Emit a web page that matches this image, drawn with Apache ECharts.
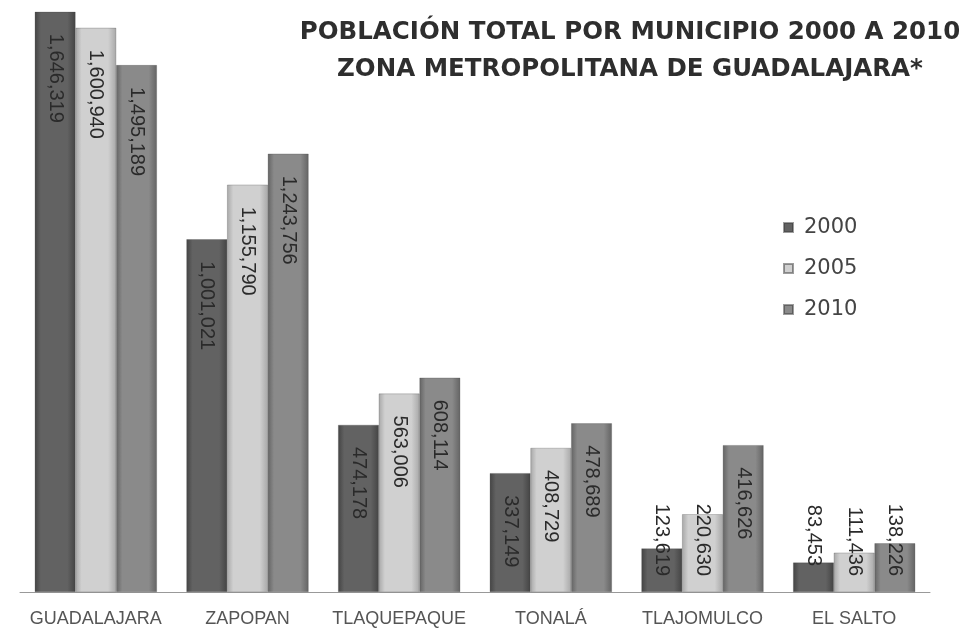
<!DOCTYPE html>
<html>
<head>
<meta charset="utf-8">
<script src="https://cdn.jsdelivr.net/npm/echarts@6/dist/echarts.min.js"></script>
<style>
html,body{margin:0;padding:0;background:#fff;}
#chart{width:959px;height:628px;}
</style>
</head>
<body>
<div id="chart"></div>
<script>
var categories = ['GUADALAJARA', 'ZAPOPAN', 'TLAQUEPAQUE', 'TONALÁ', 'TLAJOMULCO', 'EL SALTO'];
var years = ['2000', '2005', '2010'];
var pop2000 = [1646319, 1001021, 474178, 337149, 123619, 83453];
var pop2005 = [1600940, 1155790, 563006, 408729, 220630, 111436];
var pop2010 = [1495189, 1243756, 608114, 478689, 416626, 138226];
var titleLines = ['POBLACIÓN TOTAL POR MUNICIPIO 2000 A 2010', 'ZONA METROPOLITANA DE GUADALAJARA*'];

var seriesValues = [pop2000, pop2005, pop2010];
var palette = [
  {edge: '#444444', mid: '#626262', legend: '#4a4a4a'},
  {edge: '#a8a8a8', mid: '#d0d0d0', legend: '#bdbdbd'},
  {edge: '#646464', mid: '#8a8a8a', legend: '#707070'}
];

function fmt(v) { return v.toString().replace(/\B(?=(\d{3})+(?!\d))/g, ','); }

function grad(p) {
  return new echarts.graphic.LinearGradient(0, 0, 1, 0, [
    {offset: 0, color: p.edge},
    {offset: 0.15, color: p.mid},
    {offset: 0.8, color: p.mid},
    {offset: 1, color: p.edge}
  ]);
}

var labelTop = {
  show: true, position: 'insideTop', distance: 22, rotate: -90,
  align: 'left', verticalAlign: 'middle',
  fontFamily: 'Liberation Sans', fontSize: 20, color: '#2a2a2a'
};

function buildData(vals) {
  return vals.map(function (v) {
    if (v < 250000) {
      return {
        value: v,
        label: {position: 'insideBottom', distance: v < 100000 ? 26 : 16, align: 'right'}
      };
    }
    return v;
  });
}

var series = seriesValues.map(function (vals, i) {
  return {
    name: years[i],
    type: 'bar',
    barGap: '0%',
    barCategoryGap: '19.5%',
    data: buildData(vals),
    itemStyle: {color: grad(palette[i]), borderColor: 'rgba(60,60,60,0.5)', borderWidth: 0.5},
    label: Object.assign({formatter: function (p) { return fmt(p.value); }}, labelTop)
  };
});

var chart = echarts.init(document.getElementById('chart'));
chart.setOption({
  animation: false,
  backgroundColor: '#ffffff',
  color: palette.map(function (p) { return p.legend; }),
  title: {
    text: titleLines.join('\n'),
    left: 625, top: 9, textAlign: 'center',
    textStyle: {fontFamily: 'DejaVu Sans', fontWeight: 'bold', fontSize: 24.5, lineHeight: 37, color: '#2e2e2e'}
  },
  legend: {
    orient: 'vertical', left: 778, top: 212,
    itemWidth: 9, itemHeight: 9, itemGap: 20,
    icon: 'rect',
    textStyle: {fontFamily: 'DejaVu Sans', fontSize: 21, color: '#444', padding: [0, 0, 0, 6]},
    data: years
  },
  grid: {left: 20, right: 29, top: 0, bottom: 35},
  xAxis: {
    type: 'category', data: categories,
    axisLine: {lineStyle: {color: '#999', width: 1}},
    axisTick: {show: false},
    axisLabel: {interval: 0, margin: 18, fontFamily: 'Liberation Sans', fontSize: 18, color: '#555'}
  },
  yAxis: {
    type: 'value', min: 0, max: 1680000,
    show: false, splitLine: {show: false}
  },
  series: series
});
</script>
</body>
</html>
